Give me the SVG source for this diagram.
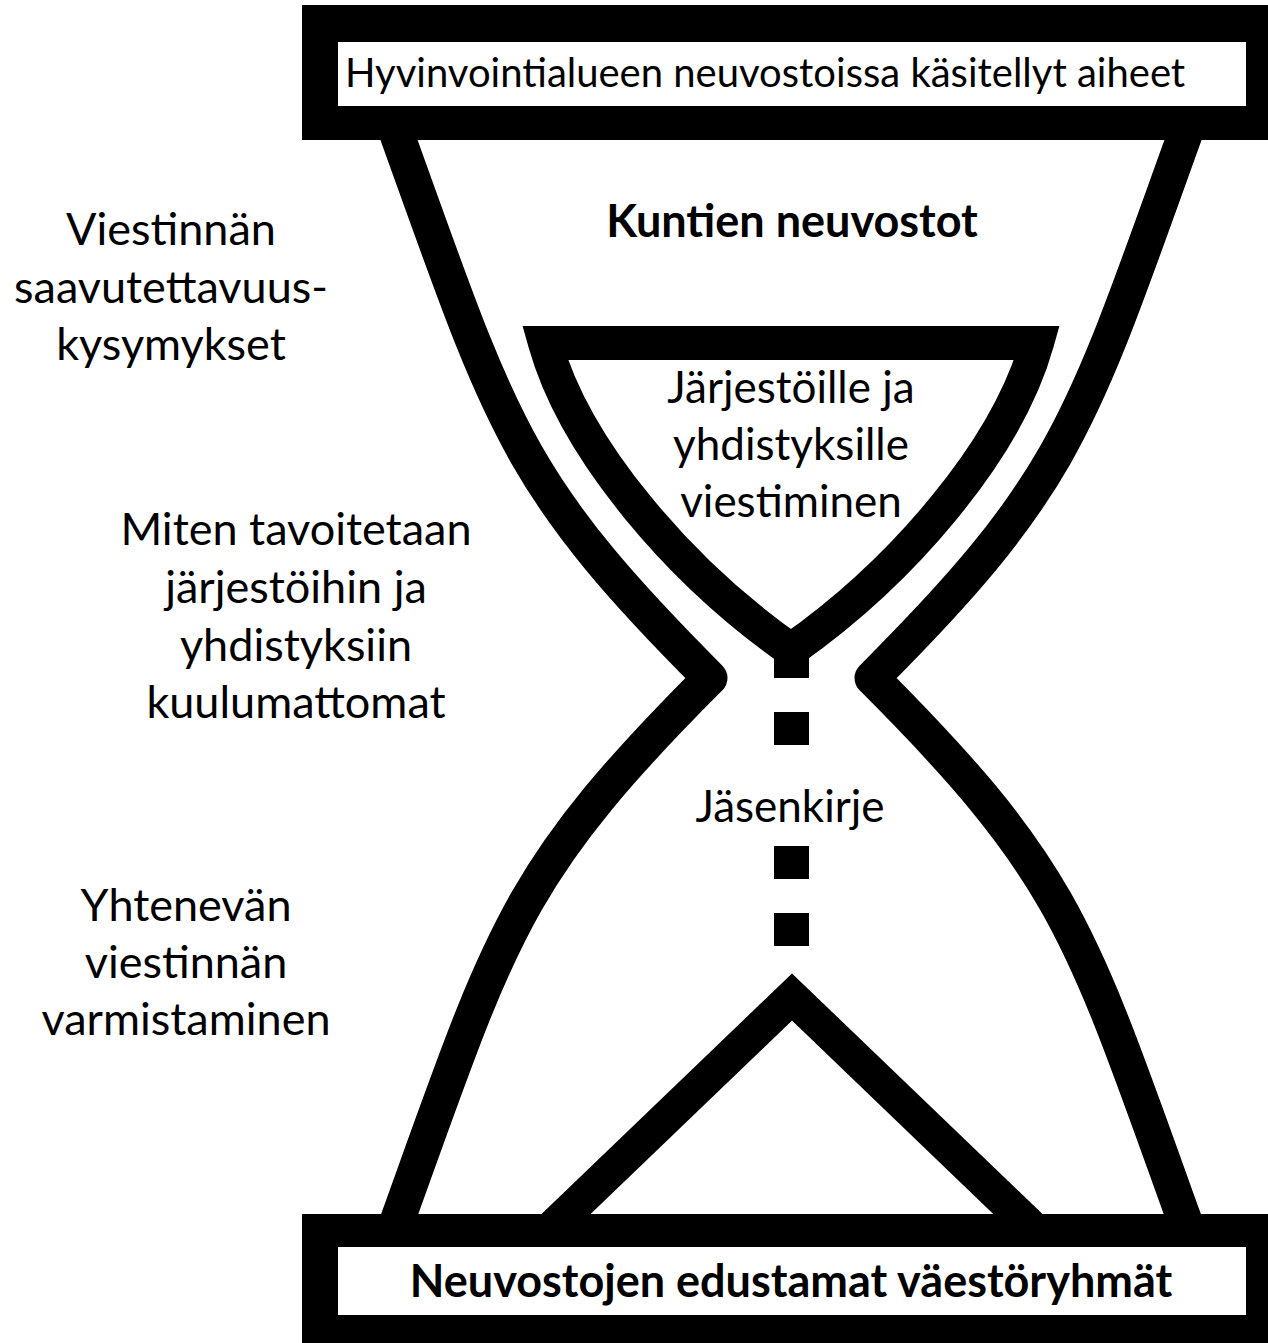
<svg xmlns="http://www.w3.org/2000/svg" width="1268" height="1343" viewBox="0 0 1268 1343">
<style>
.ln{fill:none;stroke:#000;stroke-width:35;stroke-linejoin:round}
.tri{fill:none;stroke:#000;stroke-width:34;stroke-linejoin:miter}
.blk{fill:#000}
.wht{fill:#fff}
.t{font-family:Lato,"Liberation Sans",sans-serif;font-size:44px;fill:#000;text-anchor:middle}
.b{font-weight:bold}
</style>
<rect x="0" y="0" width="1268" height="1343" fill="#fff"/>
<g id="connectors">
<path id="leftSide" class="ln" d="M 385 100 L 399 140 C 501.6 425 515.3 483.3 710 678 C 515.3 872.7 501.6 931 399 1216 L 385 1256"/>
<use href="#leftSide" transform="matrix(-1 0 0 1 1582 0)"/>
<rect class="blk" x="774" y="712" width="35" height="33"/>
<rect class="blk" x="774" y="846" width="35" height="33"/>
<rect class="blk" x="774" y="913" width="35" height="33"/>
</g>
<g id="topVessel">
<path class="tri" d="M 545 343 L 1037 343 C 1007 450 902 572 791 650 C 680 572 575 450 545 343 Z"/>
<rect class="blk" x="774" y="648" width="35" height="30"/>
<text class="t" x="791" y="403">Järjestöille ja</text>
<text class="t" x="791" y="460">yhdistyksille</text>
<text class="t" x="791" y="517">viestiminen</text>
</g>
<g id="bottomVessel">
<path class="tri" d="M 539 1240 L 792 997 L 1045 1240"/>
</g>
<g id="topBar">
<rect class="blk" x="302" y="5" width="966" height="135"/>
<rect class="wht" x="338" y="42" width="908" height="64"/>
<text class="t" x="345" y="87" style="text-anchor:start;font-size:40px">Hyvinvointialueen neuvostoissa käsitellyt aiheet</text>
</g>
<g id="bottomBar">
<rect class="blk" x="302" y="1214" width="966" height="129"/>
<rect class="wht" x="338" y="1247" width="908" height="68"/>
<text class="t b" x="791" y="1297" style="font-size:45px">Neuvostojen edustamat väestöryhmät</text>
</g>
<g id="kuntien">
<text class="t b" x="792" y="237" style="font-size:45px">Kuntien neuvostot</text>
</g>
<g id="jasenkirje">
<text class="t" x="790" y="822">Jäsenkirje</text>
</g>
<g id="label1">
<text class="t" x="171" y="245" style="font-size:45px">Viestinnän</text>
<text class="t" x="171" y="303" style="font-size:45px">saavutettavuus-</text>
<text class="t" x="171" y="360" style="font-size:45px">kysymykset</text>
</g>
<g id="label2">
<text class="t" x="296" y="545" style="font-size:45px">Miten tavoitetaan</text>
<text class="t" x="296" y="603" style="font-size:45px">järjestöihin ja</text>
<text class="t" x="296" y="661" style="font-size:45px">yhdistyksiin</text>
<text class="t" x="296" y="718" style="font-size:45px">kuulumattomat</text>
</g>
<g id="label3">
<text class="t" x="186" y="921" style="font-size:45px">Yhtenevän</text>
<text class="t" x="186" y="978" style="font-size:45px">viestinnän</text>
<text class="t" x="186" y="1035" style="font-size:45px">varmistaminen</text>
</g>
</svg>
